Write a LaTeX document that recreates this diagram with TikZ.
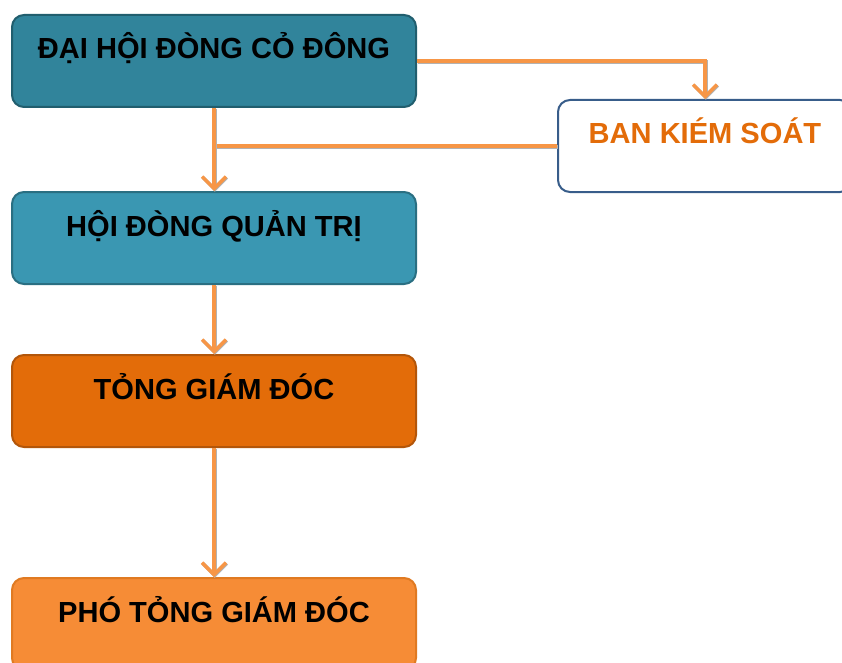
\documentclass[tikz,border=0pt]{standalone}
\usepackage{fontspec}
\setmainfont{Liberation Sans}
\usetikzlibrary{arrows.meta}
\definecolor{tealdark}{HTML}{31849B}
\definecolor{tealline}{HTML}{215E6E}
\definecolor{teallight}{HTML}{3A97B2}
\definecolor{teallightline}{HTML}{2A6F82}
\definecolor{orangedark}{HTML}{E36C09}
\definecolor{orangedarkline}{HTML}{B3560A}
\definecolor{orangelight}{HTML}{F68C36}
\definecolor{orangelightline}{HTML}{E07A22}
\definecolor{linkorange}{HTML}{F79646}
\definecolor{bksblue}{HTML}{385D8A}

\begin{document}
\begin{tikzpicture}[x=0.75pt,y=-0.75pt,
  box/.style={rectangle,rounded corners=9pt,line width=1.5pt,
    minimum width=303pt,inner xsep=0pt,inner ysep=0pt,
    text height=33pt,text depth=36pt,
    font=\fontsize{21.8}{26}\selectfont\bfseries},
  link/.style={draw=linkorange,line width=2.6pt,
    preaction={draw=black!30,line width=2.6pt,transform canvas={xshift=0.6pt,yshift=-0.6pt}}},
  arr/.style={link,-{Straight Barb[length=9pt,width=18pt,line width=2.6pt]}}]
  \useasboundingbox (0,0) rectangle (842,663);
  \clip (0,0) rectangle (842,663);
  \draw(214,61) node[box,fill=tealdark,draw=tealline] (dhcd) {ĐẠI HỘI ĐÒNG CỎ ĐÔNG};
  \draw(705,146) node[box,minimum width=220.5pt,fill=white,draw=bksblue,text=orangedark] (bks) {BAN KIÉM SOÁT};
  \draw(214,238) node[box,fill=teallight,draw=teallightline] (hdqt) {HỘI ĐÒNG QUẢN TRỊ};
  \draw(214,401) node[box,fill=orangedark,draw=orangedarkline] (tgd) {TỎNG GIÁM ĐÓC};
  \draw(214,624) node[box,fill=orangelight,draw=orangelightline] (ptgd) {PHÓ TỎNG GIÁM ĐÓC};
  \draw[arr] (dhcd.east) -| (bks.north);
  \draw[link] (bks.west) -- (bks.west -| dhcd.south);
  \draw[arr] (dhcd.south) -- (hdqt.north);
  \draw[arr] (hdqt.south) -- (tgd.north);
  \draw[arr] (tgd.south) -- (ptgd.north);
\end{tikzpicture}
\end{document}
